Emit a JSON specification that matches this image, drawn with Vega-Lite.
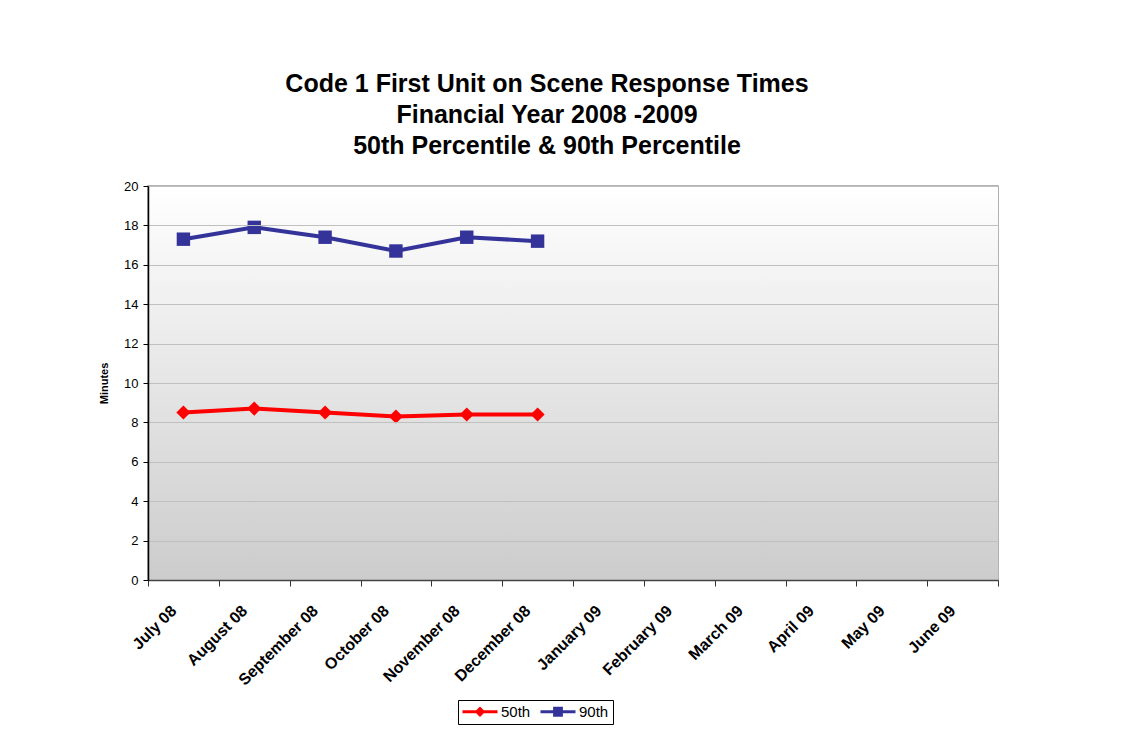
{
  "$schema": "https://vega.github.io/schema/vega-lite/v6.json",
  "width": 850,
  "height": 394,
  "autosize": "none",
  "padding": {"left": 148, "top": 186, "right": 139, "bottom": 164},
  "background": "#ffffff",
  "config": {
    "font": "Liberation Sans",
    "view": {"stroke": "#999999", "strokeWidth": 1.5}
  },
  "title": {
    "text": ["Code 1 First Unit on Scene Response Times", "Financial Year 2008 -2009", "50th Percentile & 90th Percentile"],
    "font": "Liberation Sans",
    "fontSize": 25,
    "fontWeight": "bold",
    "color": "#000000",
    "lineHeight": 31,
    "offset": 21,
    "dx": -26,
    "anchor": "middle"
  },
  "data": {
    "values": [
      {"month": "July 08", "series": "50th", "value": 8.5},
      {"month": "August 08", "series": "50th", "value": 8.7},
      {"month": "September 08", "series": "50th", "value": 8.5},
      {"month": "October 08", "series": "50th", "value": 8.3},
      {"month": "November 08", "series": "50th", "value": 8.4},
      {"month": "December 08", "series": "50th", "value": 8.4},
      {"month": "July 08", "series": "90th", "value": 17.3},
      {"month": "August 08", "series": "90th", "value": 17.9},
      {"month": "September 08", "series": "90th", "value": 17.4},
      {"month": "October 08", "series": "90th", "value": 16.7},
      {"month": "November 08", "series": "90th", "value": 17.4},
      {"month": "December 08", "series": "90th", "value": 17.2}
    ]
  },
  "encoding": {
    "x": {
      "field": "month",
      "type": "nominal",
      "sort": null,
      "scale": {
        "domain": ["July 08", "August 08", "September 08", "October 08", "November 08", "December 08", "January 09", "February 09", "March 09", "April 09", "May 09", "June 09"],
        "paddingInner": 0,
        "paddingOuter": 0
      },
      "axis": {
        "title": null,
        "tickBand": "extent",
        "labelOffset": -10,
        "labelAngle": -45,
        "labelAlign": "right",
        "labelBaseline": "middle",
        "labelPadding": 22,
        "labelFont": "Liberation Sans",
        "labelFontSize": 16,
        "labelFontWeight": "bold",
        "labelColor": "#000000",
        "tickSize": 6,
        "tickColor": "#333333",
        "domainColor": "#444444",
        "domainWidth": 1.5,
        "zindex": 1
      }
    },
    "y": {
      "field": "value",
      "type": "quantitative",
      "scale": {"domain": [0, 20], "nice": false},
      "axis": {
        "title": "Minutes",
        "titleFont": "Liberation Sans",
        "titleFontSize": 11,
        "titleFontWeight": "bold",
        "titleColor": "#000000",
        "titlePadding": 14,
        "values": [0, 2, 4, 6, 8, 10, 12, 14, 16, 18, 20],
        "labelFont": "Liberation Sans",
        "labelFontSize": 13,
        "labelColor": "#000000",
        "labelPadding": 5,
        "tickSize": 5,
        "tickColor": "#000000",
        "domainColor": "#000000",
        "domainWidth": 1.5,
        "grid": true,
        "gridColor": "#c0c0c0",
        "gridWidth": 1,
        "zindex": 1
      }
    }
  },
  "layer": [
    {
      "data": {"values": [{"lo": 0, "hi": 20}]},
      "mark": {
        "type": "rect",
        "color": {
          "gradient": "linear",
          "x1": 0, "y1": 0, "x2": 0, "y2": 1,
          "stops": [
            {"offset": 0, "color": "#ffffff"},
            {"offset": 1, "color": "#cccccc"}
          ]
        }
      },
      "encoding": {
        "x": null,
        "y": {"field": "lo", "type": "quantitative"},
        "y2": {"field": "hi"}
      }
    },
    {
      "mark": {"type": "line", "strokeWidth": 4},
      "encoding": {
        "color": {
          "field": "series",
          "type": "nominal",
          "scale": {"domain": ["50th", "90th"], "range": ["#ff0000", "#333399"]},
          "legend": {
            "title": null,
            "orient": "none",
            "legendX": 310,
            "legendY": 514,
            "direction": "horizontal",
            "strokeColor": "#000000",
            "fillColor": "#ffffff",
            "padding": 4,
            "labelFont": "Liberation Sans",
            "labelFontSize": 15,
            "labelColor": "#000000",
            "symbolSize": 196,
            "labelOffset": 24,
            "columnPadding": 9,
            "encode": {
              "symbols": {
                "update": {
                  "shape": {"signal": "datum.value === '50th' ? 'M-1,-0.21L4,-0.21L4,0.21L-1,0.21Z M1.5,-0.75L2.25,0L1.5,0.75L0.75,0Z' : 'M-1,-0.21L4,-0.21L4,0.21L-1,0.21Z M0.8,-0.7L2.2,-0.7L2.2,0.7L0.8,0.7Z'"},
                  "fill": {"signal": "datum.value === '50th' ? '#ff0000' : '#333399'"},
                  "stroke": {"value": null},
                  "strokeWidth": {"value": 0},
                  "opacity": {"value": 1}
                }
              }
            }
          }
        }
      }
    },
    {
      "transform": [{"filter": "datum.series === '50th'"}],
      "mark": {"type": "point", "shape": "diamond", "filled": true, "size": 200, "opacity": 1},
      "encoding": {
        "color": {"field": "series", "type": "nominal"}
      }
    },
    {
      "transform": [{"filter": "datum.series === '90th'"}],
      "mark": {"type": "point", "shape": "square", "filled": true, "size": 180, "opacity": 1},
      "encoding": {
        "color": {"field": "series", "type": "nominal"}
      }
    }
  ]
}
